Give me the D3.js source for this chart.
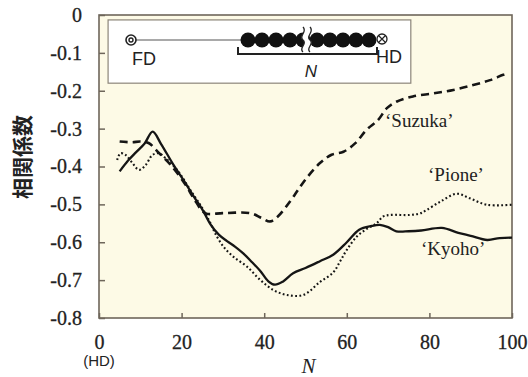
<!DOCTYPE html>
<html>
<head>
<meta charset="utf-8">
<script src="https://cdn.jsdelivr.net/npm/d3@7"></script>
<style>
  body { margin: 0; background: #fff; }
  svg { display: block; }
</style>
</head>
<body>
<script>
// N (distance from HD) and correlation coefficients
const kyohoN = [5, 7, 9, 11, 13, 15, 18, 21, 23, 25, 27, 29, 31, 33, 35, 37, 39, 41, 42.6, 44.5, 47, 50, 53.5, 56.7, 60, 63, 66, 68, 70, 72, 75, 78, 83, 87, 90, 94, 97, 100]
const kyohoR = [-0.413, -0.385, -0.362, -0.34, -0.308, -0.34, -0.395, -0.445, -0.48, -0.513, -0.553, -0.58, -0.597, -0.612, -0.63, -0.652, -0.675, -0.703, -0.712, -0.704, -0.682, -0.668, -0.65, -0.633, -0.60, -0.567, -0.557, -0.554, -0.56, -0.571, -0.571, -0.569, -0.562, -0.575, -0.583, -0.594, -0.589, -0.588]

const suzukaN = [5, 8, 10, 12, 14.5, 17.7, 21, 23, 25.7, 30, 36.6, 39.4, 41.4, 43.3, 46.2, 48, 50.3, 53.5, 56.3, 59.2, 62, 64.8, 67.6, 69.7, 72, 76, 81, 85.8, 90.6, 94.7, 97.9, 99]
const suzukaR = [-0.334, -0.336, -0.334, -0.338, -0.364, -0.40, -0.449, -0.485, -0.523, -0.523, -0.523, -0.536, -0.545, -0.532, -0.493, -0.465, -0.43, -0.391, -0.369, -0.361, -0.339, -0.303, -0.277, -0.246, -0.229, -0.215, -0.207, -0.198, -0.185, -0.172, -0.158, -0.155]

const pioneN = [4.4, 5.2, 6.5, 8.1, 9.7, 11.3, 12.9, 14.5, 16.1, 19, 22, 25, 27, 28.1, 30.1, 32.5, 35.8, 39, 42.2, 45.4, 49.5, 53.5, 56.7, 58.4, 60, 62.4, 64.8, 67.2, 68.8, 70.5, 75.3, 77.7, 79.3, 82.6, 86.6, 89.8, 93.9, 100]
const pioneR = [-0.383, -0.365, -0.37, -0.391, -0.409, -0.396, -0.37, -0.365, -0.378, -0.41, -0.46, -0.51, -0.55, -0.576, -0.611, -0.638, -0.664, -0.699, -0.726, -0.739, -0.739, -0.705, -0.68, -0.65, -0.62, -0.585, -0.565, -0.55, -0.532, -0.528, -0.528, -0.524, -0.515, -0.493, -0.472, -0.484, -0.501, -0.501]

const xTicks = [0, 20, 40, 60, 80, 100]
const yTicks = [0, -0.1, -0.2, -0.3, -0.4, -0.5, -0.6, -0.7, -0.8]

const seriesNames = ["‘Kyoho’", "‘Suzuka’", "‘Pione’"]

const width = 528, height = 377
const margin = { top: 15, right: 16, bottom: 59, left: 99 }
const plotW = width - margin.left - margin.right
const plotH = height - margin.top - margin.bottom

const svg = d3.select("body").append("svg")
    .attr("width", width)
    .attr("height", height)

const x = d3.scaleLinear().domain([0, 100]).range([margin.left, margin.left + plotW])
const y = d3.scaleLinear().domain([-0.8, 0]).range([margin.top + plotH, margin.top])

// plot background
svg.append("rect")
    .attr("x", margin.left).attr("y", margin.top)
    .attr("width", plotW).attr("height", plotH)
    .attr("fill", "#fdfae6")

const serif = "'Liberation Serif', 'Times New Roman', serif"
const sans = "'Liberation Sans', Arial, sans-serif"

// axes with inner ticks
const yAxis = svg.append("g")
    .attr("transform", `translate(${margin.left},0)`)
    .call(d3.axisLeft(y).tickValues(yTicks).tickSize(-6).tickPadding(17)
        .tickFormat(d => d === 0 ? "0" : d3.format(".1f")(d).replace("−", "-")))
const xAxis = svg.append("g")
    .attr("transform", `translate(0,${margin.top + plotH})`)
    .call(d3.axisBottom(x).tickValues(xTicks).tickSize(-5).tickPadding(17))

for (const ax of [xAxis, yAxis]) {
    ax.select(".domain").remove()
    ax.selectAll(".tick line").attr("stroke", "#6e665b").attr("stroke-width", 1.5)
    ax.selectAll(".tick text")
        .attr("font-family", serif)
        .attr("font-size", 20)
        .attr("fill", "#222")
        .attr("stroke", "#222")
        .attr("stroke-width", 0.3)
}
xAxis.selectAll(".tick text").attr("dy", "0.71em")

// plot frame
svg.append("rect")
    .attr("x", margin.left).attr("y", margin.top)
    .attr("width", plotW).attr("height", plotH)
    .attr("fill", "none")
    .attr("stroke", "#6e665b")
    .attr("stroke-width", 1.6)

// inset diagram
const inset = svg.append("g")
const ix0 = x(2.2), ix1 = x(75.5), iy0 = y(-0.013), iy1 = y(-0.18)
inset.append("rect")
    .attr("x", ix0).attr("y", iy0)
    .attr("width", ix1 - ix0).attr("height", iy1 - iy0)
    .attr("fill", "#fff")
    .attr("stroke", "#8c8579")
    .attr("stroke-width", 1.2)

const cy = 40
inset.append("line")
    .attr("x1", 131).attr("x2", 242).attr("y1", cy).attr("y2", cy)
    .attr("stroke", "#555").attr("stroke-width", 1.2)
inset.append("circle").attr("cx", 131).attr("cy", cy).attr("r", 5)
    .attr("fill", "#fff").attr("stroke", "#222").attr("stroke-width", 1.6)
inset.append("circle").attr("cx", 131).attr("cy", cy).attr("r", 2)
    .attr("fill", "none").attr("stroke", "#222").attr("stroke-width", 1.4)

const beadX = [248, 262, 276, 290, 303, 317, 330, 343, 356, 369]
inset.selectAll("circle.bead").data(beadX).join("circle")
    .attr("class", "bead")
    .attr("cx", d => d).attr("cy", cy).attr("r", 7.5)
    .attr("fill", "#111")

// wavy break
const waveL = 303, waveR = 310
const wave = (x0) => `M${x0},27 C${x0 + 5},32 ${x0 - 5},36 ${x0},40 C${x0 + 5},44 ${x0 - 5},48 ${x0},52`
const waveBack = (x0) => `L${x0},52 C${x0 - 5},48 ${x0 + 5},44 ${x0},40 C${x0 - 5},36 ${x0 + 5},32 ${x0},27 Z`
inset.append("path")
    .attr("d", wave(waveL) + waveBack(waveR))
    .attr("fill", "#fff")
inset.append("path").attr("d", wave(waveL)).attr("fill", "none").attr("stroke", "#222").attr("stroke-width", 1.3)
inset.append("path").attr("d", wave(waveR)).attr("fill", "none").attr("stroke", "#222").attr("stroke-width", 1.3)

// HD marker
inset.append("circle").attr("cx", 382).attr("cy", cy - 1).attr("r", 5)
    .attr("fill", "#fff").attr("stroke", "#222").attr("stroke-width", 1.3)
inset.append("path")
    .attr("d", `M${382 - 3.5},${cy - 4.5} L${382 + 3.5},${cy + 2.5} M${382 + 3.5},${cy - 4.5} L${382 - 3.5},${cy + 2.5}`)
    .attr("stroke", "#222").attr("stroke-width", 1.2)

// bracket
inset.append("path")
    .attr("d", "M238,47 V54 H377 V47")
    .attr("fill", "none").attr("stroke", "#222").attr("stroke-width", 2)

inset.append("text").attr("x", 132).attr("y", 65)
    .attr("font-family", sans).attr("font-size", 18).attr("fill", "#222").text("FD")
inset.append("text").attr("x", 376).attr("y", 63)
    .attr("font-family", sans).attr("font-size", 18).attr("fill", "#222").text("HD")
inset.append("text").attr("x", 311).attr("y", 77).attr("text-anchor", "middle")
    .attr("font-family", sans).attr("font-style", "italic").attr("font-size", 17).attr("fill", "#222").text("N")

// series lines
const line = d3.line()
    .x(d => x(d[0]))
    .y(d => y(d[1]))
    .curve(d3.curveCatmullRom.alpha(0.5))

const series = [
    { n: kyohoN, r: kyohoR, dash: null, w: 2.3 },
    { n: suzukaN, r: suzukaR, dash: "8,5", w: 2.6 },
    { n: pioneN, r: pioneR, dash: "1.8,2.4", w: 2.1 }
]
svg.selectAll("path.series").data(series).join("path")
    .attr("class", "series")
    .attr("d", s => line(d3.zip(s.n, s.r)))
    .attr("fill", "none")
    .attr("stroke", "#151515")
    .attr("stroke-width", s => s.w)
    .attr("stroke-dasharray", s => s.dash)

// series labels
const labelPos = [[421, 255], [385, 127], [428, 181]]
svg.selectAll("text.label").data(seriesNames).join("text")
    .attr("class", "label")
    .attr("x", (d, i) => labelPos[i][0])
    .attr("y", (d, i) => labelPos[i][1])
    .attr("font-family", serif)
    .attr("font-size", 19)
    .attr("fill", "#222")
    .text(d => d)

// axis titles
svg.append("text")
    .attr("transform", "translate(30,157) rotate(-90)")
    .attr("text-anchor", "middle")
    .attr("font-family", "'Noto Sans CJK JP', sans-serif")
    .attr("font-size", 21)
    .attr("font-weight", 700)
    .attr("fill", "#222")
    .text("相関係数")

svg.append("text")
    .attr("x", x(50) + 3).attr("y", 373)
    .attr("text-anchor", "middle")
    .attr("font-family", serif)
    .attr("font-style", "italic")
    .attr("font-size", 21)
    .attr("fill", "#222")
    .text("N")

svg.append("text")
    .attr("x", x(0)).attr("y", 366)
    .attr("text-anchor", "middle")
    .attr("font-family", sans)
    .attr("font-size", 15)
    .attr("fill", "#222")
    .text("(HD)")
</script>
</body>
</html>
